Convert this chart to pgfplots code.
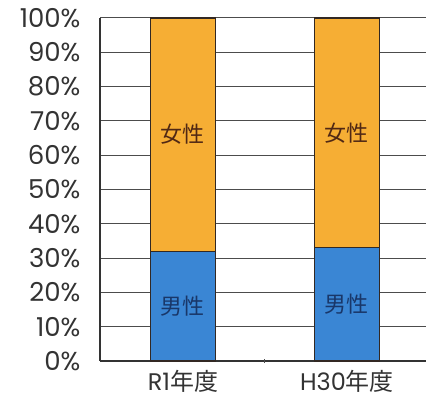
\documentclass[border=0pt]{standalone}
\usepackage{pgfplots}
\pgfplotsset{compat=1.18}
\usepackage{fontspec}
\setmainfont{Poppins}
\newfontfamily\cjk{Noto Sans CJK JP}
\definecolor{orng}{RGB}{246,174,52}
\definecolor{blu}{RGB}{58,134,212}
\definecolor{edge}{RGB}{50,40,35}
\definecolor{ftxt}{RGB}{80,40,20}
\definecolor{mtxt}{RGB}{25,55,105}
\begin{document}
\begin{tikzpicture}
\path[use as bounding box] (0,0) rectangle (426pt,403pt);
\begin{axis}[
  at={(100pt,42pt)}, anchor=south west,
  scale only axis, width=326pt, height=343pt,
  xmin=-0.506, xmax=1.482, ymin=0, ymax=100,
  ybar stacked, bar width=65pt,
  ytick={0,10,...,100},
  yticklabel={\pgfmathprintnumber{\tick}\%},
  /pgf/number format/assume math mode=true,
  ymajorgrids, grid style={line width=1pt, color=black!70},
  axis lines=left, axis line style={-, line width=1.3pt, color=black!80},
  xtick={0,1}, xticklabels={{R1{\cjk 年度}},{H30{\cjk 年度}}},
  major tick length=0pt,
  extra x ticks={0.5}, extra x tick labels={},
  extra x tick style={major tick length=4pt, tick style={line width=1pt, black!70}, grid=none},
  yticklabel style={font=\fontsize{26}{28}\selectfont, text=black!80, xshift=-16pt},
  xticklabel style={font=\fontsize{24}{28}\selectfont, text=black!80, yshift=-6pt},
  clip=false,
]
\addplot[fill=blu, draw=edge, line width=1.3pt] coordinates {(0,32) (1,33)};
\addplot[fill=orng, draw=edge, line width=1.3pt] coordinates {(0,68) (1,67)};
\end{axis}
\begin{axis}[
  at={(100pt,42pt)}, anchor=south west,
  scale only axis, width=326pt, height=343pt,
  xmin=-0.506, xmax=1.482, ymin=0, ymax=100,
  axis lines=none, clip=false,
]
\addplot[draw=none, mark=none, nodes near coords={\cjk 女性}, every node near coord/.append style={anchor=center, font=\fontsize{22}{24}\selectfont, text=ftxt}] coordinates {(0,66) (1,66.5)};
\addplot[draw=none, mark=none, nodes near coords={\cjk 男性}, every node near coord/.append style={anchor=center, font=\fontsize{22}{24}\selectfont, text=mtxt}] coordinates {(0,16) (1,16.5)};
\end{axis}
\end{tikzpicture}
\end{document}
